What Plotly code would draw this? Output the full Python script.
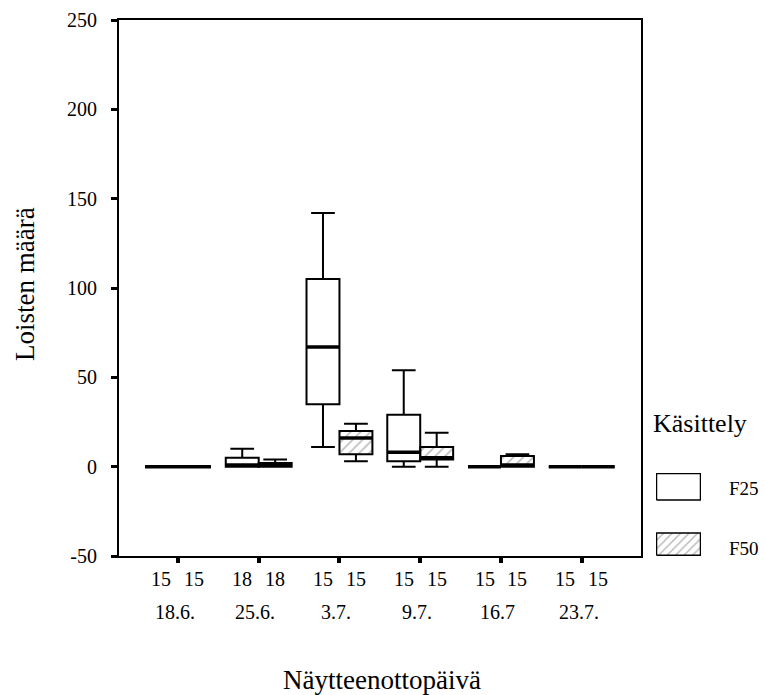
import plotly.graph_objects as go

# ---- data ----
dates = ["18.6.", "25.6.", "3.7.", "9.7.", "16.7", "23.7."]
n_f25 = [15, 18, 15, 15, 15, 15]
n_f50 = [15, 18, 15, 15, 15, 15]

f25_lower = [0, 0, 11, 0, 0, 0]
f25_q1 = [0, 0, 35, 3, 0, 0]
f25_median = [0, 1, 67, 8, 0, 0]
f25_q3 = [0, 5, 105, 29, 0, 0]
f25_upper = [0, 10, 142, 54, 0, 0]

f50_lower = [0, 0, 3, 0, 0, 0]
f50_q1 = [0, 0, 7, 4, 0, 0]
f50_median = [0, 1, 16, 5, 1, 0]
f50_q3 = [0, 2, 20, 11, 6, 0]
f50_upper = [0, 4, 24, 19, 7, 0]

y_ticks = [-50, 0, 50, 100, 150, 200, 250]
y_ticktext = ["-50", "0", "50", "100", "150", "200", "250"]

# ---- styling / layout helpers ----
FONT = "'Liberation Serif', 'Times New Roman', Times, serif"
W, H = 765, 695
ML, MR, MT, MB = 119, 10, 20, 139
BOXW = 0.408
OFF = BOXW / 2
paper_w = W - ML - MR
plot_h = H - MT - MB
plot_w = 522
x_dom_end = plot_w / paper_w

idx = list(range(len(dates)))
pos25 = [i - OFF for i in idx]
pos50 = [i + OFF for i in idx]

HATCH = dict(shape="/", fgcolor="#606060", bgcolor="white", size=7, solidity=0.2)

fig = go.Figure()

# hatched body of F50 boxes
fig.add_trace(go.Bar(
    x=pos50, y=[b - a for a, b in zip(f50_q1, f50_q3)], base=f50_q1,
    width=BOXW,
    marker=dict(color="white", line=dict(width=0), pattern=HATCH),
    showlegend=False, hoverinfo="skip"))

fig.add_trace(go.Box(
    x=pos25, q1=f25_q1, median=f25_median, q3=f25_q3,
    lowerfence=f25_lower, upperfence=f25_upper,
    width=BOXW, whiskerwidth=0.72, boxpoints=False,
    fillcolor="white", line=dict(color="black", width=2),
    name="F25", showlegend=False))

fig.add_trace(go.Box(
    x=pos50, q1=f50_q1, median=f50_median, q3=f50_q3,
    lowerfence=f50_lower, upperfence=f50_upper,
    width=BOXW, whiskerwidth=0.72, boxpoints=False,
    fillcolor="rgba(0,0,0,0)", line=dict(color="black", width=2),
    name="F50", showlegend=False))

# thick median lines
for pos, med in ((pos25, f25_median), (pos50, f50_median)):
    xs, ys = [], []
    for p, m in zip(pos, med):
        xs += [p - OFF, p + OFF, None]
        ys += [m, m, None]
    fig.add_trace(go.Scatter(x=xs, y=ys, mode="lines",
                             line=dict(color="black", width=3.5),
                             showlegend=False, hoverinfo="skip"))

# ---- legend swatches on a small helper axis ----
sw_x0 = (656 - ML) / paper_w
sw_x1 = (701 - ML) / paper_w
sw_y1 = (H - MB - 473) / plot_h
fig.add_trace(go.Scatter(
    x=[0.5, 44.5, 44.5, 0.5, 0.5], y=[56, 56, 82.5, 82.5, 56],
    mode="lines", fill="toself", fillcolor="white",
    line=dict(color="black", width=1.5), xaxis="x2", yaxis="y2",
    showlegend=False, hoverinfo="skip"))
fig.add_trace(go.Scatter(
    x=[0.5, 44.5, 44.5, 0.5, 0.5], y=[0.7, 0.7, 23, 23, 0.7],
    mode="lines", fill="toself", fillcolor="white",
    fillpattern=dict(shape="/", fgcolor="#606060", bgcolor="white",
                     size=6, solidity=0.2),
    line=dict(color="black", width=1.5), xaxis="x2", yaxis="y2",
    showlegend=False, hoverinfo="skip"))


def txt(size):
    return dict(family=FONT, size=size, color="black")


annotations = []
# N row
annotations.append(dict(x=-0.78, y=0, xref="x", yref="paper", text="N =",
                        showarrow=False, yshift=-23, yanchor="middle",
                        xanchor="center", font=txt(20)))
for p, n in list(zip(pos25, n_f25)) + list(zip(pos50, n_f50)):
    annotations.append(dict(x=p, y=0, xref="x", yref="paper", text=str(n),
                            showarrow=False, yshift=-23, yanchor="middle",
                            font=txt(20)))
# date row
for i, d in zip(idx, dates):
    annotations.append(dict(x=i - 0.04, y=0, xref="x", yref="paper", text=d,
                            showarrow=False, yshift=-56, yanchor="middle",
                            font=txt(20)))
# axis titles
annotations.append(dict(x=(382 - ML) / paper_w, y=(H - MB - 680) / plot_h,
                        xref="paper", yref="paper", text="Näytteenottopäivä",
                        showarrow=False, xanchor="center", yanchor="middle",
                        font=txt(27)))
annotations.append(dict(x=(25 - ML) / paper_w, y=(H - MB - 284) / plot_h,
                        xref="paper", yref="paper", text="Loisten määrä",
                        textangle=-90, showarrow=False, xanchor="center",
                        yanchor="middle", font=txt(27)))
# legend texts
annotations.append(dict(x=(651 - ML) / paper_w, y=(H - MB - 423) / plot_h,
                        xref="paper", yref="paper", text="Käsittely",
                        showarrow=False, xanchor="left", yanchor="middle",
                        font=txt(26)))
annotations.append(dict(x=(727 - ML) / paper_w, y=(H - MB - 488) / plot_h,
                        xref="paper", yref="paper", text="F25",
                        showarrow=False, xanchor="left", yanchor="middle",
                        font=txt(19)))
annotations.append(dict(x=(727 - ML) / paper_w, y=(H - MB - 548) / plot_h,
                        xref="paper", yref="paper", text="F50",
                        showarrow=False, xanchor="left", yanchor="middle",
                        font=txt(19)))

fig.update_layout(
    width=W, height=H,
    margin=dict(l=ML, r=MR, t=MT, b=MB),
    paper_bgcolor="white", plot_bgcolor="white",
    boxmode="overlay", barmode="overlay",
    showlegend=False,
    font=txt(20),
    xaxis=dict(domain=[0, x_dom_end], range=[-0.73, 5.734],
               tickvals=idx, ticktext=["" for _ in idx],
               ticks="outside", ticklen=5, tickwidth=4, tickcolor="black",
               showline=True, linecolor="black", linewidth=2, mirror=True,
               showgrid=False, zeroline=False, fixedrange=True),
    yaxis=dict(range=[-50, 250], tickvals=y_ticks, ticktext=y_ticktext,
               ticks="outside", ticklen=6, tickwidth=3, tickcolor="black",
               ticklabelstandoff=10, tickfont=txt(20),
               showline=True, linecolor="black", linewidth=2, mirror=True,
               showgrid=False, zeroline=False),
    xaxis2=dict(domain=[sw_x0, sw_x1], range=[0, 45], anchor="y2",
                visible=False, fixedrange=True),
    yaxis2=dict(domain=[0, sw_y1], range=[0, 83], anchor="x2",
                visible=False, fixedrange=True),
    annotations=annotations,
)

fig.write_html("out.html")
